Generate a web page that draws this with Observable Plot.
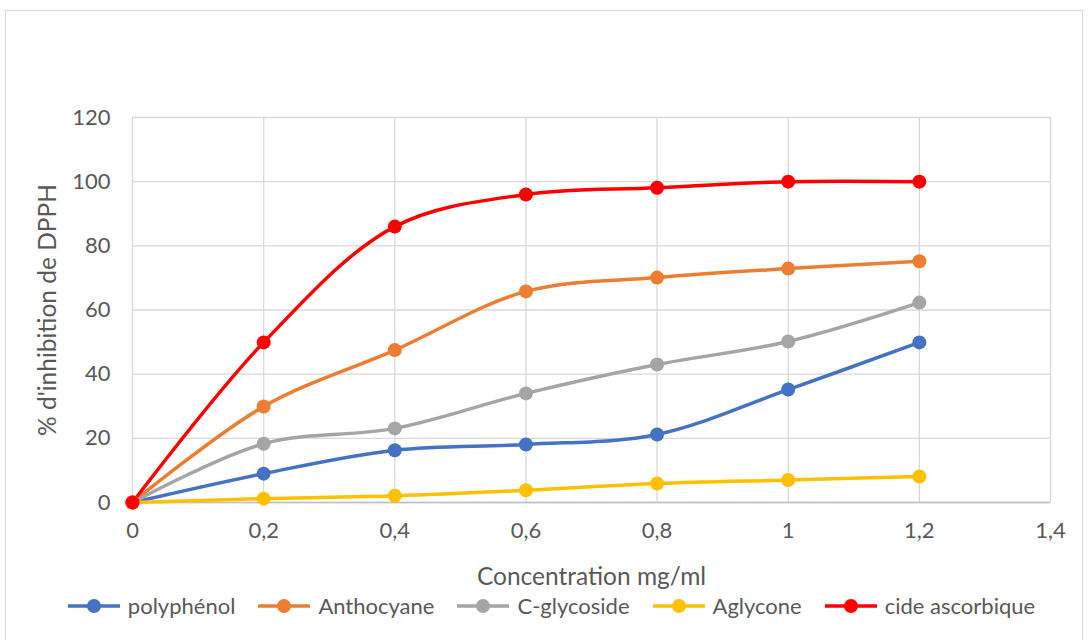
<!DOCTYPE html>
<html><head><meta charset="utf-8">
<script src="https://cdn.jsdelivr.net/npm/d3@7"></script>
<script src="https://cdn.jsdelivr.net/npm/@observablehq/plot@0.6"></script>
<style>
body{margin:0;background:#fff;font-family:Lato,"Open Sans",sans-serif;}
#wrap{position:relative;width:1089px;height:640px;}
#frame{position:absolute;left:5px;top:10px;width:1078px;height:640px;border:1px solid #d9d9d9;box-sizing:border-box;}
#chart{position:absolute;left:0;top:0;}
#legend{position:absolute;left:6px;top:592px;width:1089px;display:flex;justify-content:center;gap:21px;font-size:22px;color:#595959;}
.li{display:flex;align-items:center;gap:6px;}
</style></head>
<body><div id="wrap"><div id="frame"></div><div id="chart"></div><div id="legend"></div></div>
<script>
const conc = [0, 0.2, 0.4, 0.6, 0.8, 1, 1.2];
const seriesNames = ["polyphénol", "Anthocyane", "C-glycoside", "Aglycone", "cide ascorbique"];
const seriesColors = ["#4472c4", "#ed7d31", "#a5a5a5", "#ffc000", "#ff0000"];
const polyphenol = [0, 9.0, 16.3, 18.1, 21.2, 35.2, 49.9];
const anthocyane = [0, 29.9, 47.5, 65.8, 70.1, 72.9, 75.2];
const cglycoside = [0, 18.3, 23.1, 34.0, 43.0, 50.2, 62.3];
const aglycone = [0, 1.2, 2.1, 3.8, 5.9, 7.0, 8.1];
const ascorbique = [0, 49.9, 86.0, 96.0, 98.1, 100, 100];
const xTicks = [0, 0.2, 0.4, 0.6, 0.8, 1, 1.2, 1.4];
const yTicks = [0, 20, 40, 60, 80, 100, 120];

const allValues = [polyphenol, anthocyane, cglycoside, aglycone, ascorbique];
const data = [];
allValues.forEach((vals, si) => vals.forEach((v, i) => data.push({s: seriesNames[si], x: conc[i], y: v})));

const fmt = d => String(d).replace(".", ",");

const chart = Plot.plot({
  width: 1089, height: 590,
  marginLeft: 132, marginRight: 39, marginTop: 117, marginBottom: 88,
  style: {fontFamily: "Lato, 'Open Sans', sans-serif", fontSize: "22px", color: "#595959", background: "transparent"},
  x: {domain: [0, 1.4], ticks: xTicks, tickFormat: fmt},
  y: {domain: [0, 120], ticks: yTicks},
  color: {domain: seriesNames, range: seriesColors},
  marks: [
    Plot.gridX(xTicks, {stroke: "#d9d9d9", strokeOpacity: 1, strokeWidth: 1.3}),
    Plot.gridY(yTicks, {stroke: "#d9d9d9", strokeOpacity: 1, strokeWidth: 1.3}),
    Plot.ruleY([0], {stroke: "#bfbfbf", strokeWidth: 1.5}),
    Plot.axisX(xTicks, {tickSize: 0, tickPadding: 20, tickFormat: fmt, fontSize: 22, fill: "#595959",
      label: "Concentration mg/ml", labelAnchor: "center", labelArrow: "none", labelOffset: 82}),
    Plot.axisY(yTicks, {tickSize: 0, tickPadding: 22, fontSize: 22, fill: "#595959",
      label: "% d'inhibition de DPPH", labelAnchor: "center", labelArrow: "none", labelOffset: 94}),
    Plot.line(data, {x: "x", y: "y", z: "s", stroke: "s", strokeWidth: 3.5, curve: "catmull-rom"}),
    Plot.dot(data, {x: "x", y: "y", fill: "s", r: 7})
  ]
});
chart.querySelectorAll("g[aria-label='x-axis label'] text, g[aria-label='y-axis label'] text").forEach(t => t.setAttribute("font-size", "24.5"));
document.getElementById("chart").appendChild(chart);

const leg = document.getElementById("legend");
seriesNames.forEach((n, i) => {
  const d = document.createElement("div");
  d.className = "li";
  d.innerHTML = `<svg width="56" height="16"><line x1="2" x2="54" y1="8" y2="8" stroke="${seriesColors[i]}" stroke-width="3.5"/><circle cx="28" cy="8" r="7" fill="${seriesColors[i]}"/></svg><span>${n}</span>`;
  leg.appendChild(d);
});
</script></body></html>
